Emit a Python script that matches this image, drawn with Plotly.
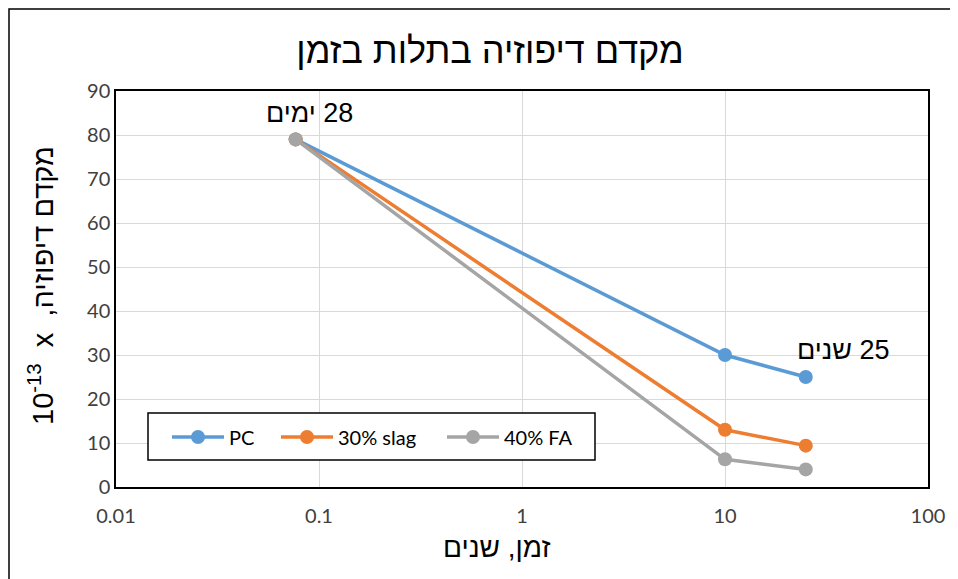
import plotly.graph_objects as go

# data
years = [28/365, 10, 25]
pc = [79, 30, 25]
slag = [79, 13, 9.4]
fa = [79, 6.3, 4.0]
series_names = ["PC", "30% slag", "40% FA"]
colors = ["#5B9BD5", "#ED7D31", "#A5A5A5"]
x_ticks = [0.01, 0.1, 1, 10, 100]
x_ticklabels = ["0.01", "0.1", "1", "10", "100"]

# the page body adds an 8px offset; positions below are given in page pixels
W, H = 958, 579
ml, mt = 108, 83
pw, ph = 812, 396
mr, mb = W - ml - pw, H - mt - ph
bottom = H - mb

def px(xp):  # page x -> paper
    return (xp - 8 - ml) / pw

def py(yp):  # page y -> paper
    return (bottom - (yp - 8)) / ph

legend_keys = ["legend", "legend2", "legend3"]
legend_x = [167, 276, 442]

fig = go.Figure()
for name, vals, c, lk in zip(series_names, [pc, slag, fa], colors, legend_keys):
    fig.add_trace(go.Scatter(x=years, y=vals, name=name, mode="lines+markers",
                             line=dict(color=c, width=3.5),
                             marker=dict(color=c, size=14), legend=lk))

tickfont = dict(family="Lato, Open Sans, sans-serif", size=20, color="#404040")
heb = "Liberation Sans, DejaVu Sans, sans-serif"
legfont = dict(family="Lato, Open Sans, sans-serif", size=20, color="black")

layout_legends = {}
for lk, lx in zip(legend_keys, legend_x):
    layout_legends[lk] = dict(orientation="h", x=px(lx), y=py(437), xanchor="left", yanchor="middle",
                              bgcolor="rgba(0,0,0,0)", borderwidth=0, font=legfont, itemwidth=52)

fig.update_layout(
    width=W, height=H,
    margin=dict(l=ml, r=mr, t=mt, b=mb),
    paper_bgcolor="white", plot_bgcolor="white",
    title=dict(text="מקדם דיפוזיה בתלות בזמן", x=(490 - 8) / W, xanchor="center",
               y=1 - (50 - 8) / H, yanchor="middle",
               font=dict(family=heb, size=36, color="black")),
    xaxis=dict(type="log", range=[-2, 2], tickvals=x_ticks, ticktext=x_ticklabels,
               showgrid=True, gridcolor="#D9D9D9", gridwidth=1.3,
               showline=True, mirror=True, linecolor="black", linewidth=1.5,
               ticks="", tickfont=tickfont, ticklabelstandoff=10),
    yaxis=dict(range=[0, 90], dtick=10, showgrid=True, gridcolor="#D9D9D9", gridwidth=1.3,
               showline=True, mirror=True, linecolor="black", linewidth=1.5,
               ticks="", tickfont=tickfont, zeroline=False),
    showlegend=True,
    **layout_legends,
)

# axis titles
fig.add_annotation(text="זמן, שנים", xref="paper", yref="paper",
                   x=px(497), y=py(547), xanchor="center", yanchor="middle", showarrow=False,
                   font=dict(family=heb, size=28, color="black"))
fig.add_annotation(text="10<sup>-13</sup>  x  ,מקדם דיפוזיה", xref="paper", yref="paper",
                   x=px(41), y=py(286), xanchor="center", yanchor="middle", showarrow=False,
                   textangle=-90, font=dict(family=heb, size=29, color="black"))

# point labels
fig.add_annotation(text="ימים\u200e 28", xref="paper", yref="paper",
                   x=px(309), y=py(113), xanchor="center", yanchor="middle", showarrow=False,
                   font=dict(family=heb, size=27, color="black"))
fig.add_annotation(text="שנים\u200e 25", xref="paper", yref="paper",
                   x=px(843), y=py(350), xanchor="center", yanchor="middle", showarrow=False,
                   font=dict(family=heb, size=27, color="black"))

# legend box
fig.add_shape(type="rect", xref="paper", yref="paper",
              x0=px(148), x1=px(595), y0=py(460), y1=py(413),
              fillcolor="white", line=dict(color="black", width=1.5), layer="above")

# outer chart border
fig.add_shape(type="rect", xref="paper", yref="paper",
              x0=px(9), x1=px(975), y0=py(600), y1=py(9),
              line=dict(color="black", width=1.5), layer="below")

fig.write_html("out.html")
